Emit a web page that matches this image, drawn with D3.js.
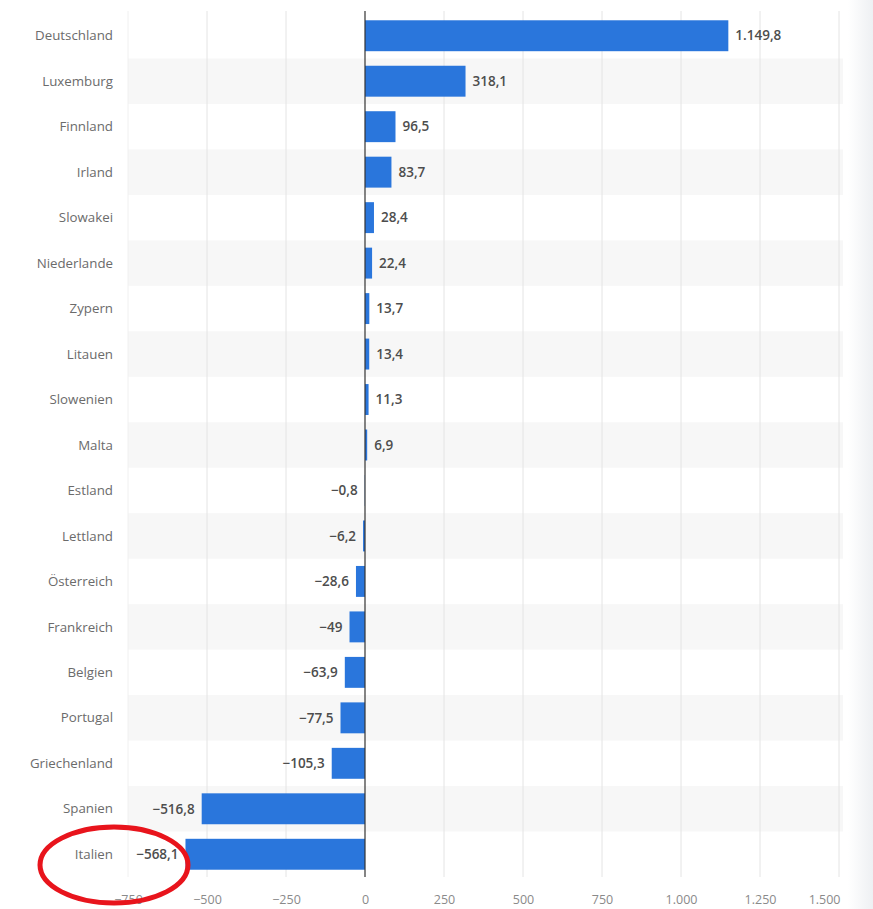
<!DOCTYPE html>
<html>
  <head>
    <meta charset="utf-8">
    <script src="https://d3js.org/d3.v7.min.js"></script>
    <style>
      body { margin: 0; background: #fff; }
      text { font-family: "Open Sans", "Noto Sans", sans-serif; }
    </style>
  </head>
  <body>
    <svg width="873" height="909"></svg>
    <script>
      var countries = ["Deutschland", "Luxemburg", "Finnland", "Irland", "Slowakei", "Niederlande",
        "Zypern", "Litauen", "Slowenien", "Malta", "Estland", "Lettland", "Österreich",
        "Frankreich", "Belgien", "Portugal", "Griechenland", "Spanien", "Italien"];
      var values = [1149.8, 318.1, 96.5, 83.7, 28.4, 22.4, 13.7, 13.4, 11.3, 6.9, -0.8, -6.2,
        -28.6, -49, -63.9, -77.5, -105.3, -516.8, -568.1];
      var tickValues = [-750, -500, -250, 0, 250, 500, 750, 1000, 1250, 1500];

      var svg = d3.select("svg"),
          margin = {top: 13, right: 34, bottom: 32, left: 128},
          height = 877 - margin.top;

      var de = d3.formatLocale({decimal: ",", thousands: ".", grouping: [3], currency: ["", "€"], minus: "−"});
      var fmtVal = de.format(",.1f");
      var fmtTick = de.format(",");

      var x = d3.scaleLinear().domain([-750, 1500]).range([0, 711]);
      var y = d3.scaleBand().domain(countries).range([0, height]).paddingInner(0.32).paddingOuter(0.16);
      var band = d3.scaleBand().domain(countries).range([0, height]);

      var data = countries.map(function(c, i) { return {name: c, value: values[i]}; });

      // right-edge shadow
      var grad = svg.append("defs").append("linearGradient").attr("id", "shade");
      grad.append("stop").attr("offset", "0").attr("stop-color", "#fff");
      grad.append("stop").attr("offset", "1").attr("stop-color", "#eef0f3");
      svg.append("rect").attr("x", 848).attr("y", 0).attr("width", 25).attr("height", 909)
          .attr("fill", "url(#shade)");

      var g = svg.append("g").attr("transform", "translate(" + margin.left + "," + margin.top + ")");

      g.selectAll(".stripe")
          .data(data.filter(function(d, i) { return i % 2 == 1; }))
        .enter().append("rect")
          .attr("class", "stripe")
          .attr("x", 0)
          .attr("y", function(d) { return band(d.name); })
          .attr("width", 715)
          .attr("height", band.bandwidth())
          .attr("fill", "#f7f7f7");

      g.selectAll(".grid")
          .data(tickValues.filter(function(t) { return t != 0; }))
        .enter().append("line")
          .attr("class", "grid")
          .attr("x1", function(d) { return x(d); })
          .attr("x2", function(d) { return x(d); })
          .attr("y1", -2)
          .attr("y2", height)
          .attr("stroke", function(d) { return d == -750 ? "#f0f0f0" : "#e4e4e4"; })
          .attr("stroke-width", 1);

      g.selectAll(".bar")
          .data(data)
        .enter().append("rect")
          .attr("class", "bar")
          .attr("x", function(d) { return x(Math.min(0, d.value)); })
          .attr("y", function(d) { return y(d.name); })
          .attr("width", function(d) { return Math.abs(x(d.value) - x(0)); })
          .attr("height", y.bandwidth())
          .attr("fill", "#2a76dc");

      g.append("line")
          .attr("x1", x(0)).attr("x2", x(0))
          .attr("y1", -2).attr("y2", height)
          .attr("stroke", "#333").attr("stroke-width", 1.2);

      g.selectAll(".val")
          .data(data)
        .enter().append("text")
          .attr("class", "val")
          .attr("x", function(d) { return d.value >= 0 ? x(d.value) + 7 : x(d.value) - 7; })
          .attr("y", function(d) { return band(d.name) + band.bandwidth() / 2; })
          .attr("dy", "0.35em")
          .attr("text-anchor", function(d) { return d.value >= 0 ? "start" : "end"; })
          .attr("font-size", "13.5px")
          .attr("font-weight", "600")
          .attr("fill", "#4d4d4d")
          .text(function(d) { return d.value % 1 == 0 ? fmtTick(d.value) : fmtVal(d.value); });

      g.selectAll(".cat")
          .data(data)
        .enter().append("text")
          .attr("class", "cat")
          .attr("x", -15)
          .attr("y", function(d) { return band(d.name) + band.bandwidth() / 2; })
          .attr("dy", "0.35em")
          .attr("text-anchor", "end")
          .attr("font-size", "13.3px")
          .attr("fill", "#6b6b6b")
          .text(function(d) { return d.name; });

      var xAxis = g.append("g")
          .attr("transform", "translate(0," + (height + 15) + ")")
          .call(d3.axisBottom(x).tickValues(tickValues).tickSize(0).tickFormat(fmtTick));
      xAxis.select(".domain").remove();
      xAxis.selectAll("text")
          .attr("font-family", "'Open Sans', 'Noto Sans', sans-serif")
          .attr("font-size", "12.5px")
          .attr("fill", "#8a8a8a");
      // last label kept inside the plot, as in the original
      xAxis.selectAll(".tick").filter(function(d) { return d == 1500; })
          .select("text").attr("text-anchor", "end").attr("x", 1);

      // red highlight around Italien
      svg.append("ellipse")
          .attr("cx", 114).attr("cy", 865)
          .attr("rx", 74).attr("ry", 38)
          .attr("fill", "none")
          .attr("stroke", "#e8141c")
          .attr("stroke-width", 5);
    </script>
  </body>
</html>
